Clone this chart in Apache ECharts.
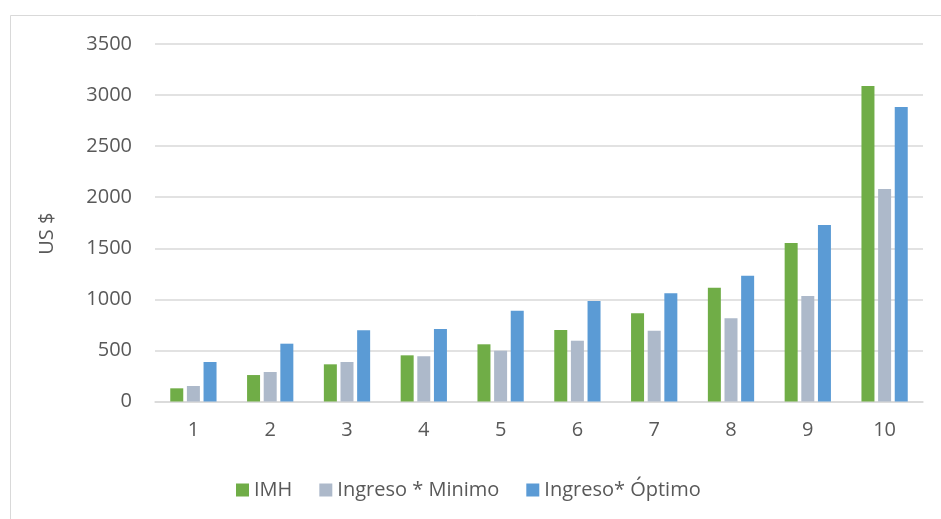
<!DOCTYPE html>
<html>
<head>
<meta charset="utf-8">
<script src="https://cdn.jsdelivr.net/npm/echarts@6/dist/echarts.min.js"></script>
<style>html,body{margin:0;padding:0;background:#fff;}#c{width:941px;height:519px;}</style>
</head>
<body>
<div id="c"></div>
<script>
const categories = ['1','2','3','4','5','6','7','8','9','10'];
const imh = [129, 259, 364, 452, 560, 700, 863, 1114, 1552, 3089];
const ingresoMinimo = [152, 289, 387, 443, 497, 595, 693, 815, 1033, 2080];
const ingresoOptimo = [387, 566, 697, 710, 889, 984, 1059, 1232, 1728, 2883];
const seriesNames = ['IMH', 'Ingreso * Minimo', 'Ingreso* Óptimo'];
const yTicks = {min: 0, max: 3500, interval: 500};

const font = 'Open Sans';
const chart = echarts.init(document.getElementById('c'), null, {renderer: 'canvas'});
const mk = (name, data, color) => ({
  name, type: 'bar', data, barWidth: 13, barGap: '28%',
  itemStyle: {color}
});
chart.setOption({
  animation: false,
  backgroundColor: '#fff',
  graphic: [{type: 'rect', shape: {x: 10.5, y: 15.5, width: 940, height: 520}, style: {fill: 'none', stroke: '#d9d9d9', lineWidth: 1}}],
  grid: {left: 155, right: 18, top: 44, bottom: 117.5},
  legend: {
    left: 231, top: 475, itemWidth: 13, itemHeight: 13, itemGap: 27,
    icon: 'rect',
    textStyle: {fontFamily: font, fontSize: 20, color: '#595959'},
    data: seriesNames
  },
  xAxis: {
    type: 'category', data: categories,
    axisLine: {lineStyle: {color: '#d9d9d9', width: 1.5}},
    axisTick: {show: false},
    axisLabel: {fontFamily: font, fontSize: 20, color: '#595959', margin: 19}
  },
  yAxis: {
    type: 'value', min: yTicks.min, max: yTicks.max, interval: yTicks.interval,
    name: 'US $', nameLocation: 'middle', nameGap: 98,
    nameTextStyle: {fontFamily: font, fontSize: 20, color: '#595959', padding: [0,0,0,-22]},
    axisLine: {show: false}, axisTick: {show: false},
    axisLabel: {fontFamily: font, fontSize: 20, color: '#595959', margin: 23, formatter: v => String(v)},
    splitLine: {lineStyle: {color: '#d9d9d9', width: 1.5}}
  },
  series: [
    mk(seriesNames[0], imh, '#70ad47'),
    mk(seriesNames[1], ingresoMinimo, '#adb9ca'),
    mk(seriesNames[2], ingresoOptimo, '#5b9bd5')
  ]
});
</script>
</body>
</html>
